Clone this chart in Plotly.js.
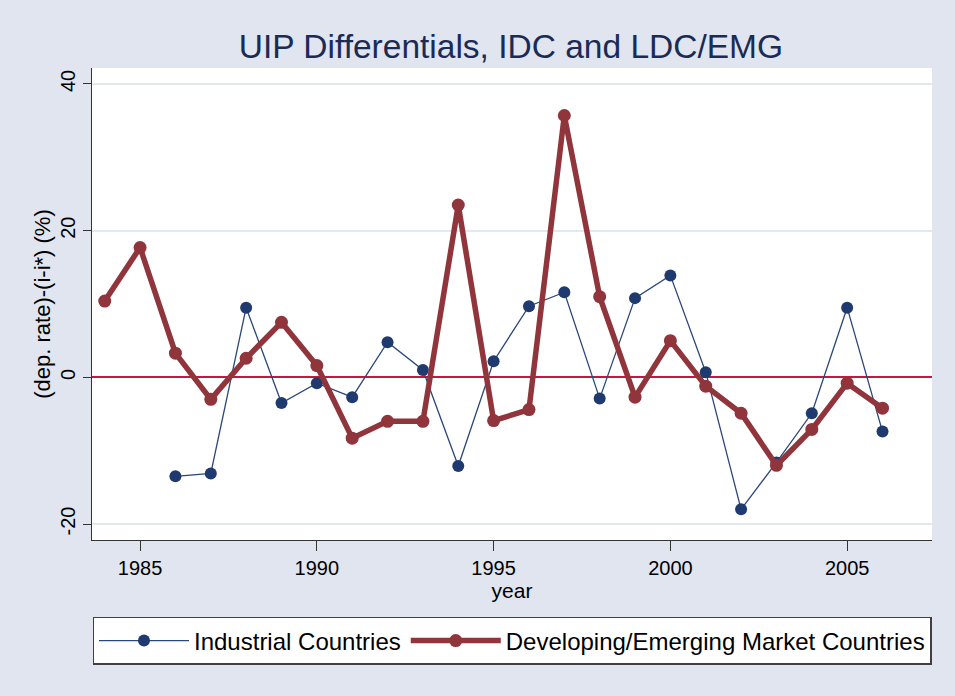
<!DOCTYPE html>
<html>
<head>
<meta charset="utf-8">
<script src="https://cdn.plot.ly/plotly-3.0.1.min.js"></script>
<style>html,body{margin:0;padding:0;background:#e0e5ef;}#chart{width:955px;height:696px;}</style>
</head>
<body>
<div id="chart"></div>
<script>
const years = [1984,1985,1986,1987,1988,1989,1990,1991,1992,1993,1994,1995,1996,1997,1998,1999,2000,2001,2002,2003,2004,2005,2006];
const industrial = [null,null,-13.5,-13.1,9.5,-3.5,-0.8,-2.7,4.8,1.0,-12.1,2.2,9.7,11.6,-2.9,10.8,13.9,0.7,-18.0,-11.6,-4.9,9.5,-7.4];
const developing = [10.4,17.7,3.3,-3.0,2.6,7.5,1.6,-8.3,-6.0,-6.0,23.5,-5.9,-4.4,35.7,11.0,-2.7,5.0,-1.2,-4.9,-12.0,-7.1,-0.8,-4.2];
const xTicks = [1985,1990,1995,2000,2005];
const yTicks = [-20,0,20,40];
const titleText = "UIP Differentials, IDC and LDC/EMG";
const yTitle = "(dep. rate)-(i-i*) (%)";
const xTitle = "year";
const names = ["Industrial Countries","Developing/Emerging Market Countries"];

const font = "Liberation Sans, Arial, sans-serif";
const traces = [
  {x: years, y: industrial, name: names[0], type: 'scatter', mode: 'lines+markers',
   line: {color: '#2b4778', width: 1.3}, marker: {color: '#1f3a6e', size: 12},
   connectgaps: false},
  {x: years, y: developing, name: names[1], type: 'scatter', mode: 'lines+markers',
   line: {color: '#90353b', width: 5.5}, marker: {color: '#90353b', size: 13}}
];
const layout = {
  width: 955, height: 696,
  paper_bgcolor: '#e0e5ef', plot_bgcolor: '#ffffff',
  margin: {l: 92, r: 23, t: 68, b: 156},
  font: {family: font, color: '#000000'},
  title: {text: titleText, font: {family: font, size: 33.5, color: '#1a2b55'}, x: 0.535, xanchor: 'center', y: 0.933, yanchor: 'middle'},
  xaxis: {range: [1983.64, 2007.4], tickvals: xTicks, ticktext: xTicks.map(String),
    ticks: 'outside', ticklen: 10, tickcolor: '#333', tickwidth: 1,
    showline: true, linecolor: '#333', linewidth: 1, showgrid: false, zeroline: false,
    tickfont: {size: 20, family: font}, title: {text: xTitle, font: {size: 21, family: font}, standoff: 4}},
  yaxis: {range: [-22.18, 42.18], tickvals: yTicks, ticktext: yTicks.map(String), tickangle: -90,
    ticks: 'outside', ticklen: 8, tickcolor: '#333', tickwidth: 1,
    showline: true, linecolor: '#333', linewidth: 1, showgrid: true, gridcolor: '#e3e7ef', gridwidth: 2,
    zeroline: true, zerolinecolor: '#c8163f', zerolinewidth: 2,
    tickfont: {size: 20, family: font},
    title: {text: yTitle, font: {size: 22, family: font}, standoff: 0}},
  showlegend: true,
  legend: {orientation: 'h', x: 0.5, xanchor: 'center', y: -0.163, yanchor: 'top',
    bgcolor: '#ffffff', bordercolor: '#404040', borderwidth: 1.5,
    font: {size: 24, family: font}, itemwidth: 90, traceorder: 'normal'}
};
Plotly.newPlot('chart', traces, layout, {displayModeBar: false});
</script>
</body>
</html>
